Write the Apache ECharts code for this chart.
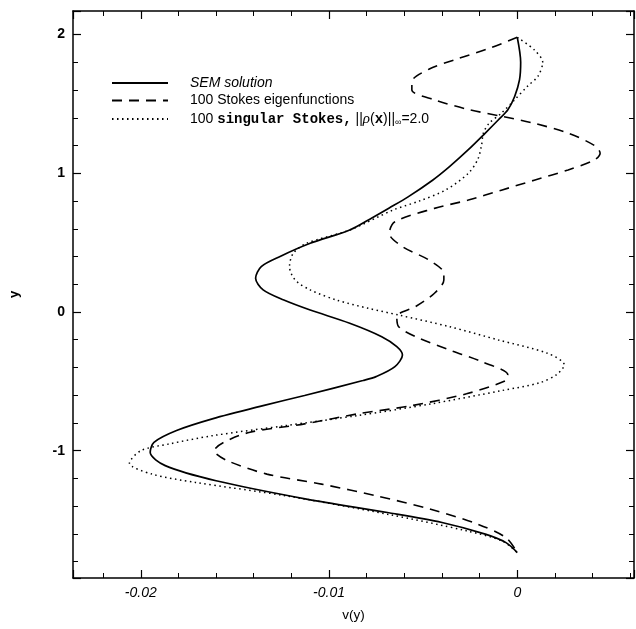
<!DOCTYPE html>
<html>
<head>
<meta charset="utf-8">
<script src="https://cdn.jsdelivr.net/npm/echarts@6/dist/echarts.min.js"></script>
<style>
  html, body { margin: 0; padding: 0; background: #fff; }
  #chart { width: 636px; height: 629px; }
</style>
</head>
<body>
<div id="chart"></div>
<script>
// series names (legend text)
const seriesNames = [
  'SEM solution',
  '100 Stokes eigenfunctions',
  '100 singular Stokes, ||ρ(x)||∞=2.0'
]

// SEM solution: v(y) and y
const semV = [0, 0.00018, 0.00012, -0.00014, -0.0005, -0.001, -0.0017, -0.0026, -0.0036, -0.0045,
  -0.0058, -0.0068, -0.0077, -0.0089, -0.011, -0.0126, -0.0136, -0.0139, -0.0135, -0.0124,
  -0.011, -0.0089, -0.0072, -0.0064, -0.0061, -0.0065, -0.0075, -0.0082, -0.0113, -0.0135,
  -0.0162, -0.0181, -0.0193, -0.0195, -0.0187, -0.016, -0.0112, -0.0069, -0.004, -0.0017,
  -0.0006, 0]
const semY = [1.98, 1.8, 1.675, 1.554, 1.458, 1.386, 1.29, 1.17, 1.048, 0.95,
  0.83, 0.75, 0.68, 0.591, 0.495, 0.4, 0.327, 0.243, 0.159, 0.086,
  0.014, -0.081, -0.178, -0.25, -0.31, -0.394, -0.466, -0.494, -0.602, -0.675,
  -0.771, -0.855, -0.94, -1.012, -1.108, -1.217, -1.349, -1.446, -1.518, -1.602,
  -1.663, -1.735]

// 100 Stokes eigenfunctions
const eigV = [0, -0.0015, -0.0033, -0.0047, -0.0056, -0.0056, -0.0044, -0.0026, -0.0008, 0.0009,
  0.0027, 0.0041, 0.0044, 0.0041, 0.0027, 0.0009, -0.0008, -0.0026, -0.0044, -0.0065,
  -0.0068, -0.0061, -0.0047, -0.0039, -0.0039, -0.0044, -0.0054, -0.0064, -0.0063, -0.0054,
  -0.0036, -0.0019, -0.0005, -0.0006, -0.0027, -0.0056, -0.0085, -0.0113, -0.0142, -0.0156,
  -0.0161, -0.0154, -0.0133, -0.0104, -0.0075, -0.0046, -0.0021, -0.0006, 0]
const eigY = [1.98, 1.9, 1.82, 1.75, 1.66, 1.6, 1.53, 1.46, 1.41, 1.36,
  1.29, 1.2, 1.145, 1.096, 1.024, 0.95, 0.88, 0.807, 0.747, 0.651,
  0.567, 0.471, 0.375, 0.279, 0.231, 0.135, 0.039, -0.033, -0.106, -0.178,
  -0.274, -0.358, -0.454, -0.494, -0.59, -0.675, -0.735, -0.807, -0.867, -0.94,
  -1.0, -1.072, -1.169, -1.241, -1.325, -1.422, -1.53, -1.627, -1.735]

// 100 singular Stokes
const singV = [0, 0.0009, 0.00135, 0.0011, 0.00056, -0.00014, -0.00084, -0.0015, -0.0018, -0.0019,
  -0.0021, -0.0026, -0.0038, -0.0052, -0.0066, -0.0089, -0.0112, -0.0119, -0.0121, -0.0118,
  -0.011, -0.0096, -0.0079, -0.0063, -0.0036, -0.001, 0.0016, 0.0025, 0.0021, 0.0012,
  -0.0008, -0.0046, -0.0085, -0.0123, -0.0162, -0.0185, -0.02, -0.0206, -0.0194, -0.0171,
  -0.0123, -0.0069, -0.0027, -0.0008, 0]
const singY = [1.98, 1.89, 1.8, 1.7, 1.63, 1.53, 1.434, 1.36, 1.29, 1.2,
  1.1, 1.0, 0.88, 0.8, 0.735, 0.591, 0.495, 0.423, 0.327, 0.231,
  0.159, 0.086, 0.026, -0.022, -0.106, -0.202, -0.298, -0.382, -0.45, -0.51,
  -0.566, -0.663, -0.747, -0.819, -0.892, -0.952, -1.0, -1.09, -1.169, -1.229,
  -1.325, -1.458, -1.578, -1.651, -1.735]

const pairs = (xs, ys) => xs.map((x, i) => [x, ys[i]])

const chart = echarts.init(document.getElementById('chart'))

const xRange = { min: -0.0236, max: 0.0062 }
const yRange = { min: -1.918, max: 2.17 }

const tickStyle = {
  axisLine: { show: true, onZero: false, lineStyle: { color: '#000', width: 1.5 } },
  axisTick: { show: true, inside: true, length: 8, lineStyle: { color: '#000', width: 1.2 } },
  minorTick: { show: true, splitNumber: 5, length: 5, lineStyle: { color: '#000', width: 1 } },
  splitLine: { show: false },
  minorSplitLine: { show: false }
}

const option = {
  animation: false,
  backgroundColor: '#fff',
  grid: { left: 68, right: 2, top: 11, bottom: 51 },
  legend: {
    orient: 'vertical',
    left: 106,
    top: 71,
    itemWidth: 56,
    itemHeight: 14,
    itemGap: 3.5,
    itemStyle: { opacity: 0, color: 'transparent', borderWidth: 0 },
    textStyle: {
      fontFamily: 'Liberation Sans',
      fontSize: 14,
      lineHeight: 14,
      color: '#000',
      padding: [0, 0, 0, 17],
      rich: {
        n: { fontFamily: 'Liberation Sans', fontSize: 14, lineHeight: 14, color: '#000' },
        m: { fontFamily: 'Liberation Mono', fontWeight: 'bold', fontSize: 14, lineHeight: 14, color: '#000' },
        i: { fontFamily: 'Liberation Serif', fontStyle: 'italic', fontSize: 15, lineHeight: 14, color: '#000' },
        s: { fontFamily: 'Liberation Sans', fontSize: 9, lineHeight: 14, color: '#000', padding: [7, 0, 0, 0] }
      }
    },
    formatter: (name) => {
      if (name === seriesNames[2]) {
        return '{n|100 }{m|singular Stokes,} {n|||}{i|ρ}{n|(}{m|x}{n|)||}{s|∞}{n|=2.0}'
      }
      return name
    },
    data: [
      { name: seriesNames[0], textStyle: { fontStyle: 'italic' } },
      { name: seriesNames[1] },
      { name: seriesNames[2] }
    ]
  },
  xAxis: [
    {
      type: 'value',
      position: 'bottom',
      ...xRange,
      splitNumber: 3,
      name: 'v(y)',
      nameLocation: 'middle',
      nameGap: 30,
      nameTextStyle: { fontFamily: 'Liberation Sans', fontSize: 13.5, color: '#000' },
      axisLabel: {
        margin: 8,
        showMinLabel: false,
        showMaxLabel: false,
        fontFamily: 'Liberation Sans',
        fontStyle: 'italic',
        fontSize: 14,
        color: '#000',
        formatter: (v) => (v === 0 ? '0' : String(+v.toFixed(2)))
      },
      ...tickStyle
    },
    {
      type: 'value',
      position: 'top',
      ...xRange,
      splitNumber: 3,
      axisLabel: { show: false },
      ...tickStyle
    }
  ],
  yAxis: [
    {
      type: 'value',
      position: 'left',
      ...yRange,
      splitNumber: 4,
      name: 'y',
      nameLocation: 'middle',
      nameGap: 52,
      nameTextStyle: { fontFamily: 'Liberation Sans', fontSize: 13, fontWeight: 'bold', color: '#000' },
      axisLabel: {
        margin: 8,
        showMinLabel: false,
        showMaxLabel: false,
        fontFamily: 'Liberation Sans',
        fontWeight: 'bold',
        fontSize: 14,
        color: '#000'
      },
      ...tickStyle
    },
    {
      type: 'value',
      position: 'right',
      ...yRange,
      splitNumber: 4,
      axisLabel: { show: false },
      ...tickStyle
    }
  ],
  series: [
    {
      name: seriesNames[0],
      type: 'line',
      smooth: 0.3,
      symbol: 'none',
      itemStyle: { color: '#000' },
      lineStyle: { color: '#000', width: 1.7, type: 'solid' },
      data: pairs(semV, semY)
    },
    {
      name: seriesNames[1],
      type: 'line',
      smooth: 0.3,
      symbol: 'none',
      itemStyle: { color: '#000' },
      lineStyle: { color: '#000', width: 1.6, type: [10, 7] },
      data: pairs(eigV, eigY)
    },
    {
      name: seriesNames[2],
      type: 'line',
      smooth: 0.3,
      symbol: 'none',
      itemStyle: { color: '#000' },
      lineStyle: { color: '#000', width: 1.5, type: [1.5, 3.5] },
      data: pairs(singV, singY)
    }
  ]
}

chart.setOption(option)
</script>
</body>
</html>
